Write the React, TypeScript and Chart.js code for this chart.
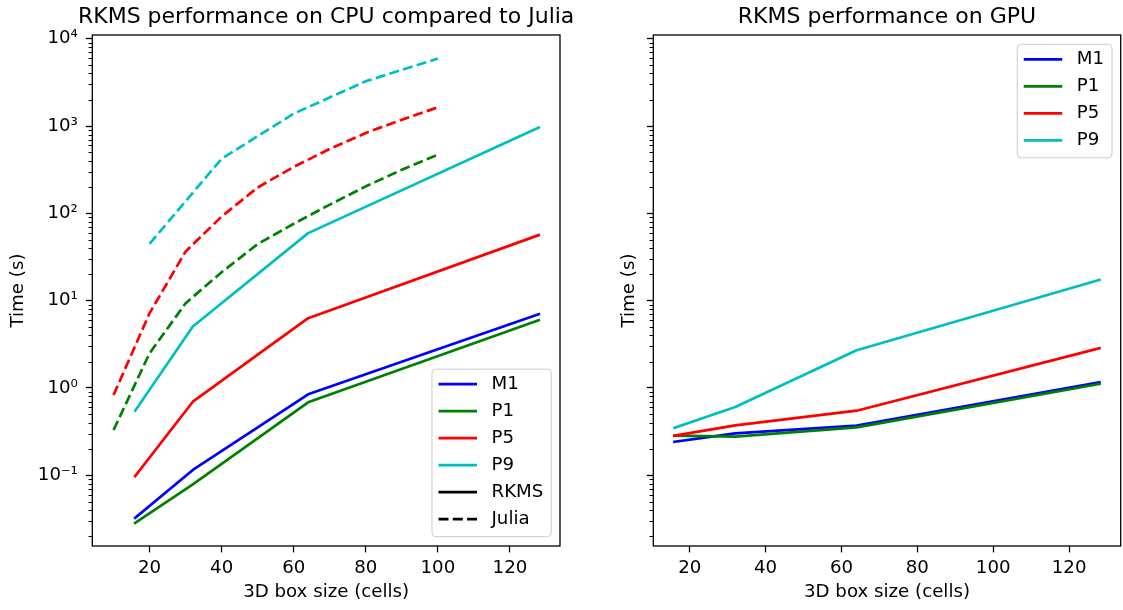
import React, { useEffect, useRef } from 'react';
import { Chart, registerables } from 'chart.js';

Chart.register(...registerables);

const FONT = '"DejaVu Sans", sans-serif';
const FS = 18.2;

// ---- data ----
const rkmsSizes = [16, 32, 64, 128];
const juliaSizes = [10, 20, 30, 40, 50, 60, 70, 80, 90, 100];
const juliaSizesP9 = [20, 40, 60, 80, 100];

const cpuM1 = [0.0326, 0.115, 0.846, 7.0];
const cpuP1 = [0.0285, 0.0786, 0.685, 5.98];
const cpuP5 = [0.098, 0.696, 6.3, 56.4];
const cpuP9 = [0.549, 5.05, 59.4, 959];

const juliaP1 = [0.33, 2.5, 9.36, 21.2, 44.5, 76, 126, 204, 316, 470];
const juliaP5 = [0.83, 7.2, 36.6, 92, 198, 340, 548, 834, 1183, 1640];
const juliaP9 = [44.8, 423, 1387, 3260, 5930];

const gpuM1 = [0.242, 0.302, 0.37, 1.16];
const gpuP1 = [0.284, 0.277, 0.354, 1.11];
const gpuP5 = [0.284, 0.373, 0.549, 2.85];
const gpuP9 = [0.351, 0.605, 2.71, 17.3];

const xTicks = [20, 40, 60, 80, 100, 120];
const yExponents = [-1, 0, 1, 2, 3, 4];

const Y_MIN = Math.pow(10, -1.81);
const Y_MAX = Math.pow(10, 4.043);

const COLORS: Record<string, string> = {
  M1: '#0000ff',
  P1: '#008000',
  P5: '#ff0000',
  P9: '#00bfbf',
};
const LW = 2.7;
const DASH = [10, 4.3];

const SUP: Record<string, string> = {
  '-': '⁻', '0': '⁰', '1': '¹', '2': '²', '3': '³', '4': '⁴',
  '5': '⁵', '6': '⁶', '7': '⁷', '8': '⁸', '9': '⁹',
};
function powLabel(v: number) {
  const e = Math.round(Math.log10(v));
  return '10' + String(e).split('').map((c) => SUP[c]).join('');
}

function pts(xs: number[], ys: number[]) {
  return xs.map((x, i) => ({ x, y: ys[i] }));
}

function solid(label: string, xs: number[], ys: number[]) {
  return {
    label,
    data: pts(xs, ys),
    borderColor: COLORS[label],
    backgroundColor: COLORS[label],
    borderWidth: LW,
    borderCapStyle: 'square',
    borderJoinStyle: 'round',
    pointRadius: 0,
    fill: false,
    tension: 0,
  };
}
function dashed(label: string, xs: number[], ys: number[]) {
  return {
    label: label + ' Julia',
    data: pts(xs, ys),
    borderColor: COLORS[label],
    backgroundColor: COLORS[label],
    borderWidth: LW,
    borderDash: DASH,
    borderCapStyle: 'butt',
    borderJoinStyle: 'round',
    pointRadius: 0,
    fill: false,
    tension: 0,
  };
}

const decorPlugin = {
  id: 'decor',
  afterDatasetsDraw(chart: any, _args: any, o: any) {
    const { ctx, chartArea: a } = chart;
    const y = chart.scales.y;
    ctx.save();
    // minor log ticks
    ctx.strokeStyle = '#000';
    ctx.lineWidth = 1.05;
    ctx.setLineDash([]);
    for (let e = -3; e <= 5; e++) {
      for (let k = 2; k <= 9; k++) {
        const v = k * Math.pow(10, e);
        if (v < y.min || v > y.max) continue;
        const py = Math.round(y.getPixelForValue(v)) + 0.5;
        ctx.beginPath();
        ctx.moveTo(a.left - 3.7, py);
        ctx.lineTo(a.left, py);
        ctx.stroke();
      }
    }
    // frame
    ctx.lineWidth = 1.3;
    ctx.strokeRect(a.left, a.top, a.right - a.left, a.bottom - a.top);

    // axes title, centred over the plot area
    ctx.fillStyle = '#000';
    ctx.font = `22px ${FONT}`;
    ctx.textAlign = 'center';
    ctx.textBaseline = 'middle';
    ctx.fillText(o.title, (a.left + a.right) / 2, 17);

    // legend
    const items = o.items as { label: string; color: string; dash: boolean }[];
    ctx.font = `${FS}px ${FONT}`;
    const tw = Math.max(...items.map((it) => ctx.measureText(it.label).width));
    const w = 6.5 + 38.5 + 14.5 + tw + 8;
    const h = 15 + 27 * (items.length - 1) + 17.5;
    const x0 = a.right - 8.7 - w;
    const y0 = o.corner === 'br' ? a.bottom - 9.3 - h : a.top + 9.3;
    const r = 4;
    ctx.beginPath();
    ctx.moveTo(x0 + r, y0);
    ctx.arcTo(x0 + w, y0, x0 + w, y0 + h, r);
    ctx.arcTo(x0 + w, y0 + h, x0, y0 + h, r);
    ctx.arcTo(x0, y0 + h, x0, y0, r);
    ctx.arcTo(x0, y0, x0 + w, y0, r);
    ctx.closePath();
    ctx.fillStyle = 'rgba(255,255,255,0.8)';
    ctx.fill();
    ctx.strokeStyle = '#cccccc';
    ctx.lineWidth = 1;
    ctx.stroke();
    items.forEach((it, i) => {
      const cy = y0 + 15 + 27 * i;
      ctx.strokeStyle = it.color;
      ctx.lineWidth = LW;
      ctx.setLineDash(it.dash ? DASH : []);
      ctx.lineCap = 'butt';
      ctx.beginPath();
      ctx.moveTo(x0 + 6.5, cy);
      ctx.lineTo(x0 + 45, cy);
      ctx.stroke();
      ctx.setLineDash([]);
      ctx.fillStyle = '#000';
      ctx.textBaseline = 'middle';
      ctx.textAlign = 'left';
      ctx.fillText(it.label, x0 + 59.5, cy);
    });
    ctx.restore();
  },
};

function makeConfig(p: {
  datasets: any[];
  xMin: number;
  xMax: number;
  title: string;
  showYLabels: boolean;
  yWidth: number;
  yTitlePad: number;
  rightPad: number;
  legendItems: any[];
  corner: string;
}) {
  const font = { family: FONT, size: FS, weight: 'normal' as const };
  return {
    type: 'line' as const,
    data: { datasets: p.datasets },
    plugins: [decorPlugin],
    options: {
      animation: false,
      responsive: false,
      maintainAspectRatio: false,
      events: [],
      layout: { padding: { left: 0, right: p.rightPad, top: 35, bottom: 0 } },
      plugins: {
        legend: { display: false },
        tooltip: { enabled: false },
        title: { display: false },
        decor: { items: p.legendItems, corner: p.corner, title: p.title },
      },
      scales: {
        x: {
          type: 'linear',
          min: p.xMin,
          max: p.xMax,
          afterBuildTicks: (s: any) => {
            s.ticks = xTicks.map((v) => ({ value: v }));
          },
          afterFit: (s: any) => {
            s.height = 64;
          },
          ticks: {
            font,
            color: '#000',
            padding: 4.8,
            maxRotation: 0,
            autoSkip: false,
            callback: (v: any) => String(v),
          },
          grid: {
            drawOnChartArea: false,
            drawTicks: true,
            tickLength: 6.4,
            tickWidth: 1.3,
            tickColor: '#000',
          },
          border: { display: false },
          title: {
            display: true,
            text: '3D box size (cells)',
            font,
            color: '#000',
            padding: { top: 0, bottom: 7 },
          },
        },
        y: {
          type: 'logarithmic',
          min: Y_MIN,
          max: Y_MAX,
          afterBuildTicks: (s: any) => {
            s.ticks = yExponents.map((e) => ({ value: Math.pow(10, e) }));
          },
          afterFit: (s: any) => {
            s.width = p.yWidth;
          },
          ticks: {
            display: p.showYLabels,
            font,
            color: '#000',
            padding: 8,
            autoSkip: false,
            callback: (v: any) => powLabel(Number(v)),
          },
          grid: {
            drawOnChartArea: false,
            drawTicks: true,
            tickLength: 6.4,
            tickWidth: 1.3,
            tickColor: '#000',
          },
          border: { display: false },
          title: {
            display: true,
            text: 'Time (s)',
            font,
            color: '#000',
            padding: { top: p.yTitlePad, bottom: 0 },
          },
        },
      },
    },
  };
}

function ChartCanvas({ config, left, width }: { config: any; left: number; width: number }) {
  const ref = useRef<HTMLCanvasElement | null>(null);
  useEffect(() => {
    if (!ref.current) return;
    const chart = new Chart(ref.current, config);
    return () => chart.destroy();
  }, []);
  return (
    <canvas
      ref={ref}
      width={width}
      height={610}
      style={{ position: 'absolute', left, top: 0, width, height: 610 }}
    />
  );
}

export default function App() {
  const cpuDatasets = [
    solid('M1', rkmsSizes, cpuM1),
    solid('P1', rkmsSizes, cpuP1),
    solid('P5', rkmsSizes, cpuP5),
    solid('P9', rkmsSizes, cpuP9),
    dashed('P1', juliaSizes, juliaP1),
    dashed('P5', juliaSizes, juliaP5),
    dashed('P9', juliaSizesP9, juliaP9),
  ].reverse();
  const gpuDatasets = [
    solid('M1', rkmsSizes, gpuM1),
    solid('P1', rkmsSizes, gpuP1),
    solid('P5', rkmsSizes, gpuP5),
    solid('P9', rkmsSizes, gpuP9),
  ].reverse();

  const baseItems = ['M1', 'P1', 'P5', 'P9'].map((l) => ({ label: l, color: COLORS[l], dash: false }));
  const cpuItems = [
    ...baseItems,
    { label: 'RKMS', color: '#000', dash: false },
    { label: 'Julia', color: '#000', dash: true },
  ];

  const leftCfg = makeConfig({
    datasets: cpuDatasets,
    xMin: 4.1,
    xMax: 133.9,
    title: 'RKMS performance on CPU compared to Julia',
    showYLabels: true,
    yWidth: 92.3,
    yTitlePad: 7.5,
    rightPad: 92,
    legendItems: cpuItems,
    corner: 'br',
  });
  const rightCfg = makeConfig({
    datasets: gpuDatasets,
    xMin: 10.4,
    xMax: 133.6,
    title: 'RKMS performance on GPU',
    showYLabels: false,
    yWidth: 47.3,
    yTitlePad: 12.3,
    rightPad: 2.3,
    legendItems: baseItems,
    corner: 'tr',
  });

  return (
    <div
      style={{
        position: 'fixed',
        left: 0,
        top: 0,
        width: 1123,
        height: 610,
        background: '#fff',
        overflow: 'hidden',
      }}
    >
      <ChartCanvas config={leftCfg} left={0} width={652} />
      <ChartCanvas config={rightCfg} left={606} width={517} />
    </div>
  );
}
